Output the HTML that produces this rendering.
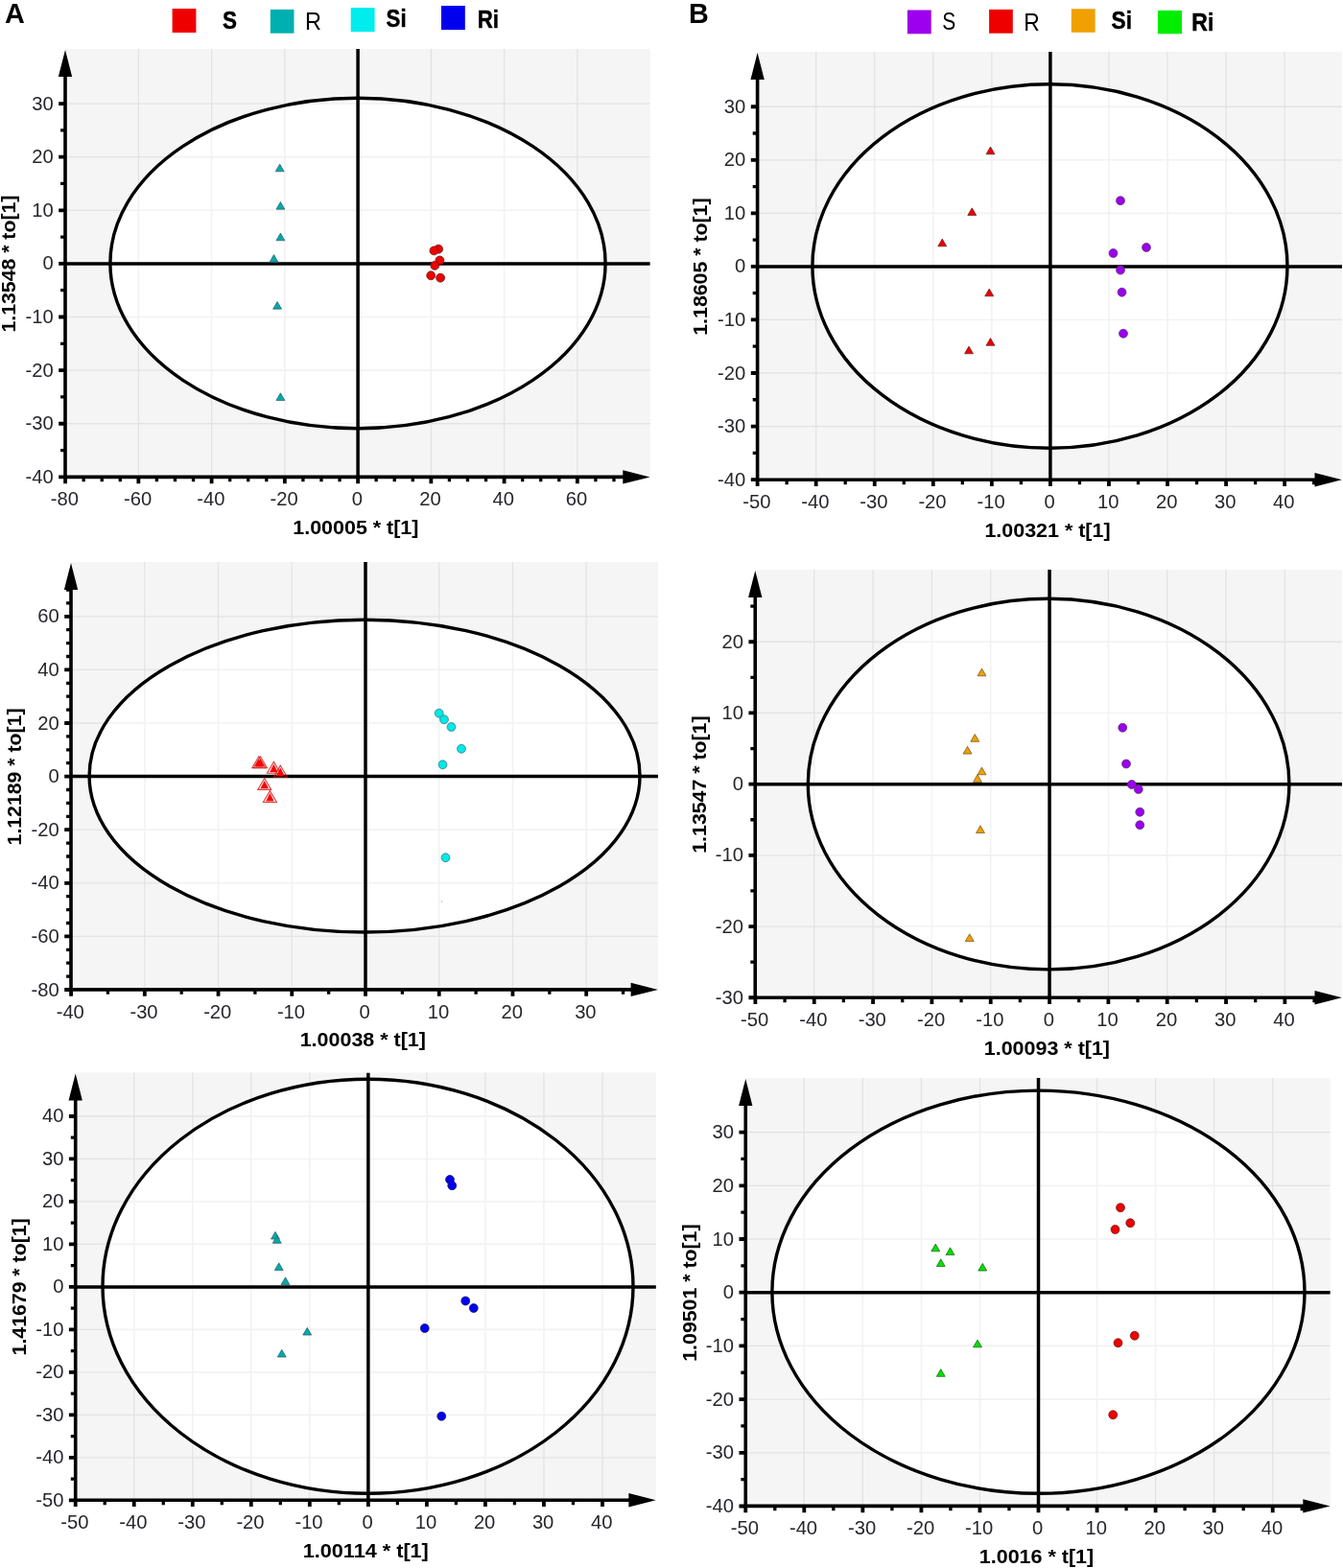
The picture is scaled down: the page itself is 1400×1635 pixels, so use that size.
<!DOCTYPE html>
<html lang="en"><head><meta charset="utf-8"><title>OPLS-DA score plots</title>
<style>
html,body{margin:0;padding:0;background:#fff;}
body{width:1400px;height:1635px;overflow:hidden;}
svg{display:block;}
text{font-family:"Liberation Sans", sans-serif;}
.tk{font-size:20.2px;fill:#26262c;}
.ti{font-size:20.0px;font-weight:bold;fill:#000;}
.lg{font-size:26.5px;fill:#000;}
.lgb{font-size:26.5px;font-weight:bold;fill:#000;stroke:#000;stroke-width:0.5px;}
.pl{font-size:28.8px;font-weight:bold;fill:#000;}
</style></head><body>
<svg width="1400" height="1635" viewBox="0 0 1400 1635">
<rect x="0" y="0" width="1400" height="1635" fill="#fff"/>
<g id="A1">
<clipPath id="cA1"><rect x="68" y="51" width="609.8" height="446.4"/></clipPath>
<rect x="68" y="51" width="609.8" height="446.4" fill="#f5f5f5"/>
<path d="M144.35 51V497.4M220.6 51V497.4M296.85 51V497.4M449.35 51V497.4M525.6 51V497.4M601.85 51V497.4M68 441.76H677.8M68 386.14H677.8M68 330.52H677.8M68 219.28H677.8M68 163.66H677.8M68 108.04H677.8" stroke="#e3e3e3" stroke-width="1.3" fill="none"/>
<g clip-path="url(#cA1)">
<ellipse cx="373" cy="274.5" rx="258.1" ry="172.3" fill="#fff"/>
<clipPath id="eA1"><ellipse cx="373" cy="274.5" rx="258.1" ry="172.3"/></clipPath>
<path d="M144.35 51V497.4M220.6 51V497.4M296.85 51V497.4M449.35 51V497.4M525.6 51V497.4M601.85 51V497.4M68 441.76H677.8M68 386.14H677.8M68 330.52H677.8M68 219.28H677.8M68 163.66H677.8M68 108.04H677.8" stroke="#f2f2f2" stroke-width="1.6" fill="none" clip-path="url(#eA1)"/>
<path d="M68 274.9H677.8" stroke="#000" stroke-width="3.5" fill="none"/>
<path d="M373.1 51V497.4" stroke="#000" stroke-width="3.5" fill="none"/>
<ellipse cx="373" cy="274.5" rx="258.1" ry="172.3" fill="none" stroke="#000" stroke-width="3.4"/>
</g>
<path d="M291.7 171.1L296.15 178.8H287.25Z" fill="#00aaad" stroke="#2a5a5c" stroke-width="0.7" stroke-linejoin="miter"/>
<path d="M292.4 210.5L296.85 218.2H287.95Z" fill="#00aaad" stroke="#2a5a5c" stroke-width="0.7" stroke-linejoin="miter"/>
<path d="M292.4 243.1L296.85 250.8H287.95Z" fill="#00aaad" stroke="#2a5a5c" stroke-width="0.7" stroke-linejoin="miter"/>
<path d="M285.5 265.6L289.95 273.3H281.05Z" fill="#00aaad" stroke="#2a5a5c" stroke-width="0.7" stroke-linejoin="miter"/>
<path d="M289.1 314.5L293.55 322.2H284.65Z" fill="#00aaad" stroke="#2a5a5c" stroke-width="0.7" stroke-linejoin="miter"/>
<path d="M292.4 409.8L296.85 417.5H287.95Z" fill="#00aaad" stroke="#2a5a5c" stroke-width="0.7" stroke-linejoin="miter"/>
<circle cx="457.1" cy="259.7" r="4.45" fill="#f00000" stroke="#6a1a1a" stroke-width="0.8"/>
<circle cx="452.4" cy="261.4" r="4.45" fill="#f00000" stroke="#6a1a1a" stroke-width="0.8"/>
<circle cx="458.4" cy="271.5" r="4.45" fill="#f00000" stroke="#6a1a1a" stroke-width="0.8"/>
<circle cx="453.3" cy="276.9" r="4.45" fill="#f00000" stroke="#6a1a1a" stroke-width="0.8"/>
<circle cx="449.2" cy="287.3" r="4.45" fill="#f00000" stroke="#6a1a1a" stroke-width="0.8"/>
<circle cx="459.1" cy="289.7" r="4.45" fill="#f00000" stroke="#6a1a1a" stroke-width="0.8"/>
<path d="M68.1 497.4v6.8M144.35 497.4v6.8M220.6 497.4v6.8M296.85 497.4v6.8M373.1 497.4v6.8M449.35 497.4v6.8M525.6 497.4v6.8M601.85 497.4v6.8M68 497.38h-6.8M68 441.76h-6.8M68 386.14h-6.8M68 330.52h-6.8M68 274.9h-6.8M68 219.28h-6.8M68 163.66h-6.8M68 108.04h-6.8" stroke="#000" stroke-width="3.8" fill="none"/>
<path d="M87.16 497.4v4.9M106.23 497.4v4.9M125.29 497.4v4.9M163.41 497.4v4.9M182.48 497.4v4.9M201.54 497.4v4.9M239.66 497.4v4.9M258.73 497.4v4.9M277.79 497.4v4.9M315.91 497.4v4.9M334.98 497.4v4.9M354.04 497.4v4.9M392.16 497.4v4.9M411.23 497.4v4.9M430.29 497.4v4.9M468.41 497.4v4.9M487.48 497.4v4.9M506.54 497.4v4.9M544.66 497.4v4.9M563.73 497.4v4.9M582.79 497.4v4.9M620.91 497.4v4.9M639.98 497.4v4.9M68 469.57h-4.9M68 413.95h-4.9M68 358.33h-4.9M68 302.71h-4.9M68 247.09h-4.9M68 191.47h-4.9M68 135.85h-4.9" stroke="#000" stroke-width="3.3" fill="none"/>
<path d="M68 71V497.4H657.8" stroke="#000" stroke-width="3.6" fill="none" stroke-linejoin="miter"/>
<path d="M68 51.9L75.15 79.9H60.85Z" fill="#000"/>
<path d="M677.6 497.4L649.3 490.2V504.6Z" fill="#000"/>
<text class="tk" x="67.3" y="527" text-anchor="middle">-80</text>
<text class="tk" x="143.55" y="527" text-anchor="middle">-60</text>
<text class="tk" x="219.8" y="527" text-anchor="middle">-40</text>
<text class="tk" x="296.05" y="527" text-anchor="middle">-20</text>
<text class="tk" x="372.3" y="527" text-anchor="middle">0</text>
<text class="tk" x="448.55" y="527" text-anchor="middle">20</text>
<text class="tk" x="524.8" y="527" text-anchor="middle">40</text>
<text class="tk" x="601.05" y="527" text-anchor="middle">60</text>
<text class="tk" x="55.7" y="503.88" text-anchor="end">-40</text>
<text class="tk" x="55.7" y="448.26" text-anchor="end">-30</text>
<text class="tk" x="55.7" y="392.64" text-anchor="end">-20</text>
<text class="tk" x="55.7" y="337.02" text-anchor="end">-10</text>
<text class="tk" x="55.7" y="281.4" text-anchor="end">0</text>
<text class="tk" x="55.7" y="225.78" text-anchor="end">10</text>
<text class="tk" x="55.7" y="170.16" text-anchor="end">20</text>
<text class="tk" x="55.7" y="114.54" text-anchor="end">30</text>
<text class="ti" x="370.85" y="556.6" text-anchor="middle" textLength="131.2" lengthAdjust="spacingAndGlyphs">1.00005 * t[1]</text>
<text class="ti" transform="translate(16 275.1) rotate(-90)" text-anchor="middle" textLength="142.9" lengthAdjust="spacingAndGlyphs">1.13548 * to[1]</text>
</g>
<g id="A2">
<clipPath id="cA2"><rect x="74" y="586" width="612.1" height="445.9"/></clipPath>
<rect x="74" y="586" width="612.1" height="445.9" fill="#f5f5f5"/>
<path d="M150.81 586V1031.9M227.54 586V1031.9M304.27 586V1031.9M457.73 586V1031.9M534.46 586V1031.9M611.19 586V1031.9M74 976.4H686.1M74 920.8H686.1M74 865.2H686.1M74 754H686.1M74 698.4H686.1M74 642.8H686.1" stroke="#e3e3e3" stroke-width="1.3" fill="none"/>
<g clip-path="url(#cA2)">
<ellipse cx="380.05" cy="809.1" rx="286.95" ry="162.9" fill="#fff"/>
<clipPath id="eA2"><ellipse cx="380.05" cy="809.1" rx="286.95" ry="162.9"/></clipPath>
<path d="M150.81 586V1031.9M227.54 586V1031.9M304.27 586V1031.9M457.73 586V1031.9M534.46 586V1031.9M611.19 586V1031.9M74 976.4H686.1M74 920.8H686.1M74 865.2H686.1M74 754H686.1M74 698.4H686.1M74 642.8H686.1" stroke="#f2f2f2" stroke-width="1.6" fill="none" clip-path="url(#eA2)"/>
<path d="M74 809.6H686.1" stroke="#000" stroke-width="3.5" fill="none"/>
<path d="M381 586V1031.9" stroke="#000" stroke-width="3.5" fill="none"/>
<ellipse cx="380.05" cy="809.1" rx="286.95" ry="162.9" fill="none" stroke="#000" stroke-width="3.4"/>
</g>
<path d="M269.8 788.8L276.8 800.7H262.8Z" fill="none" stroke="#cc1010" stroke-opacity="0.8" stroke-width="1.1"/>
<path d="M269.8 791.2L274.1 799.6H265.5Z" fill="#f80000"/>
<path d="M271.4 788.8L278.4 800.7H264.4Z" fill="none" stroke="#cc1010" stroke-opacity="0.8" stroke-width="1.1"/>
<path d="M271.4 791.2L275.7 799.6H267.1Z" fill="#f80000"/>
<path d="M285.4 794.4L292.4 806.3H278.4Z" fill="none" stroke="#cc1010" stroke-opacity="0.8" stroke-width="1.1"/>
<path d="M285.4 796.8L289.7 805.2H281.1Z" fill="#f80000"/>
<path d="M292.3 798.2L299.3 810.1H285.3Z" fill="none" stroke="#cc1010" stroke-opacity="0.8" stroke-width="1.1"/>
<path d="M292.3 800.6L296.6 809H288Z" fill="#f80000"/>
<path d="M275.7 811.5L282.7 823.4H268.7Z" fill="none" stroke="#cc1010" stroke-opacity="0.8" stroke-width="1.1"/>
<path d="M275.7 813.9L280 822.3H271.4Z" fill="#f80000"/>
<path d="M281.4 824.6L288.4 836.5H274.4Z" fill="none" stroke="#cc1010" stroke-opacity="0.8" stroke-width="1.1"/>
<path d="M281.4 827L285.7 835.4H277.1Z" fill="#f80000"/>
<circle cx="457.75" cy="743.75" r="4.45" fill="#00e8e8" stroke="#4a7a7a" stroke-width="0.8"/>
<circle cx="463" cy="750.25" r="4.45" fill="#00e8e8" stroke="#4a7a7a" stroke-width="0.8"/>
<circle cx="470.5" cy="758" r="4.45" fill="#00e8e8" stroke="#4a7a7a" stroke-width="0.8"/>
<circle cx="481" cy="780.75" r="4.45" fill="#00e8e8" stroke="#4a7a7a" stroke-width="0.8"/>
<circle cx="461.5" cy="797.25" r="4.45" fill="#00e8e8" stroke="#4a7a7a" stroke-width="0.8"/>
<circle cx="464.5" cy="894.25" r="4.45" fill="#00e8e8" stroke="#4a7a7a" stroke-width="0.8"/>
<path d="M74.08 1031.9v6.8M150.81 1031.9v6.8M227.54 1031.9v6.8M304.27 1031.9v6.8M381 1031.9v6.8M457.73 1031.9v6.8M534.46 1031.9v6.8M611.19 1031.9v6.8M74 1032h-6.8M74 976.4h-6.8M74 920.8h-6.8M74 865.2h-6.8M74 809.6h-6.8M74 754h-6.8M74 698.4h-6.8M74 642.8h-6.8" stroke="#000" stroke-width="3.8" fill="none"/>
<path d="M112.44 1031.9v4.9M189.18 1031.9v4.9M265.9 1031.9v4.9M342.63 1031.9v4.9M419.37 1031.9v4.9M496.1 1031.9v4.9M572.83 1031.9v4.9M649.56 1031.9v4.9M74 1018.1h-4.9M74 1004.2h-4.9M74 990.3h-4.9M74 962.5h-4.9M74 948.6h-4.9M74 934.7h-4.9M74 906.9h-4.9M74 893h-4.9M74 879.1h-4.9M74 851.3h-4.9M74 837.4h-4.9M74 823.5h-4.9M74 795.7h-4.9M74 781.8h-4.9M74 767.9h-4.9M74 740.1h-4.9M74 726.2h-4.9M74 712.3h-4.9M74 684.5h-4.9M74 670.6h-4.9M74 656.7h-4.9M74 628.9h-4.9M74 615h-4.9" stroke="#000" stroke-width="3.3" fill="none"/>
<path d="M74 606V1031.9H666.1" stroke="#000" stroke-width="3.6" fill="none" stroke-linejoin="miter"/>
<path d="M74 586.9L81.15 614.9H66.85Z" fill="#000"/>
<path d="M685.9 1031.9L657.6 1024.7V1039.1Z" fill="#000"/>
<text class="tk" x="73.28" y="1061.5" text-anchor="middle">-40</text>
<text class="tk" x="150.01" y="1061.5" text-anchor="middle">-30</text>
<text class="tk" x="226.74" y="1061.5" text-anchor="middle">-20</text>
<text class="tk" x="303.47" y="1061.5" text-anchor="middle">-10</text>
<text class="tk" x="380.2" y="1061.5" text-anchor="middle">0</text>
<text class="tk" x="456.93" y="1061.5" text-anchor="middle">10</text>
<text class="tk" x="533.66" y="1061.5" text-anchor="middle">20</text>
<text class="tk" x="610.39" y="1061.5" text-anchor="middle">30</text>
<text class="tk" x="61.7" y="1038.5" text-anchor="end">-80</text>
<text class="tk" x="61.7" y="982.9" text-anchor="end">-60</text>
<text class="tk" x="61.7" y="927.3" text-anchor="end">-40</text>
<text class="tk" x="61.7" y="871.7" text-anchor="end">-20</text>
<text class="tk" x="61.7" y="816.1" text-anchor="end">0</text>
<text class="tk" x="61.7" y="760.5" text-anchor="end">20</text>
<text class="tk" x="61.7" y="704.9" text-anchor="end">40</text>
<text class="tk" x="61.7" y="649.3" text-anchor="end">60</text>
<text class="ti" x="378.3" y="1091.1" text-anchor="middle" textLength="131.2" lengthAdjust="spacingAndGlyphs">1.00038 * t[1]</text>
<text class="ti" transform="translate(22.3 810) rotate(-90)" text-anchor="middle" textLength="142.9" lengthAdjust="spacingAndGlyphs">1.12189 * to[1]</text>
</g>
<g id="A3">
<clipPath id="cA3"><rect x="78.7" y="1118.5" width="605.2" height="445.8"/></clipPath>
<rect x="78.7" y="1118.5" width="605.2" height="445.8" fill="#f5f5f5"/>
<path d="M139.73 1118.5V1564.3M200.76 1118.5V1564.3M261.79 1118.5V1564.3M322.82 1118.5V1564.3M444.88 1118.5V1564.3M505.91 1118.5V1564.3M566.94 1118.5V1564.3M627.97 1118.5V1564.3M78.7 1519.82H683.9M78.7 1475.34H683.9M78.7 1430.86H683.9M78.7 1386.38H683.9M78.7 1297.42H683.9M78.7 1252.94H683.9M78.7 1208.46H683.9M78.7 1163.98H683.9" stroke="#e3e3e3" stroke-width="1.3" fill="none"/>
<g clip-path="url(#cA3)">
<ellipse cx="383.5" cy="1341.25" rx="276.5" ry="216.05" fill="#fff"/>
<clipPath id="eA3"><ellipse cx="383.5" cy="1341.25" rx="276.5" ry="216.05"/></clipPath>
<path d="M139.73 1118.5V1564.3M200.76 1118.5V1564.3M261.79 1118.5V1564.3M322.82 1118.5V1564.3M444.88 1118.5V1564.3M505.91 1118.5V1564.3M566.94 1118.5V1564.3M627.97 1118.5V1564.3M78.7 1519.82H683.9M78.7 1475.34H683.9M78.7 1430.86H683.9M78.7 1386.38H683.9M78.7 1297.42H683.9M78.7 1252.94H683.9M78.7 1208.46H683.9M78.7 1163.98H683.9" stroke="#f2f2f2" stroke-width="1.6" fill="none" clip-path="url(#eA3)"/>
<path d="M78.7 1341.9H683.9" stroke="#000" stroke-width="3.5" fill="none"/>
<path d="M383.85 1118.5V1564.3" stroke="#000" stroke-width="3.5" fill="none"/>
<ellipse cx="383.5" cy="1341.25" rx="276.5" ry="216.05" fill="none" stroke="#000" stroke-width="3.4"/>
</g>
<path d="M287 1284.35L291.45 1292.05H282.55Z" fill="#00aaad" stroke="#2a5a5c" stroke-width="0.7" stroke-linejoin="miter"/>
<path d="M288.75 1288.6L293.2 1296.3H284.3Z" fill="#00aaad" stroke="#2a5a5c" stroke-width="0.7" stroke-linejoin="miter"/>
<path d="M290.75 1316.85L295.2 1324.55H286.3Z" fill="#00aaad" stroke="#2a5a5c" stroke-width="0.7" stroke-linejoin="miter"/>
<path d="M297.5 1331.85L301.95 1339.55H293.05Z" fill="#00aaad" stroke="#2a5a5c" stroke-width="0.7" stroke-linejoin="miter"/>
<path d="M320.25 1384.35L324.7 1392.05H315.8Z" fill="#00aaad" stroke="#2a5a5c" stroke-width="0.7" stroke-linejoin="miter"/>
<path d="M293.75 1407.35L298.2 1415.05H289.3Z" fill="#00aaad" stroke="#2a5a5c" stroke-width="0.7" stroke-linejoin="miter"/>
<circle cx="469" cy="1230" r="4.45" fill="#0000f0" stroke="#1a1a6a" stroke-width="0.8"/>
<circle cx="471.25" cy="1236.25" r="4.45" fill="#0000f0" stroke="#1a1a6a" stroke-width="0.8"/>
<circle cx="485.25" cy="1356.5" r="4.45" fill="#0000f0" stroke="#1a1a6a" stroke-width="0.8"/>
<circle cx="493.75" cy="1364" r="4.45" fill="#0000f0" stroke="#1a1a6a" stroke-width="0.8"/>
<circle cx="442.75" cy="1385" r="4.45" fill="#0000f0" stroke="#1a1a6a" stroke-width="0.8"/>
<circle cx="460.25" cy="1476.75" r="4.45" fill="#0000f0" stroke="#1a1a6a" stroke-width="0.8"/>
<path d="M78.7 1564.3v6.8M139.73 1564.3v6.8M200.76 1564.3v6.8M261.79 1564.3v6.8M322.82 1564.3v6.8M383.85 1564.3v6.8M444.88 1564.3v6.8M505.91 1564.3v6.8M566.94 1564.3v6.8M627.97 1564.3v6.8M78.7 1564.3h-6.8M78.7 1519.82h-6.8M78.7 1475.34h-6.8M78.7 1430.86h-6.8M78.7 1386.38h-6.8M78.7 1341.9h-6.8M78.7 1297.42h-6.8M78.7 1252.94h-6.8M78.7 1208.46h-6.8M78.7 1163.98h-6.8" stroke="#000" stroke-width="3.8" fill="none"/>
<path d="M109.22 1564.3v4.9M170.25 1564.3v4.9M231.28 1564.3v4.9M292.31 1564.3v4.9M353.34 1564.3v4.9M414.37 1564.3v4.9M475.4 1564.3v4.9M536.42 1564.3v4.9M597.46 1564.3v4.9M658.49 1564.3v4.9M78.7 1542.06h-4.9M78.7 1497.58h-4.9M78.7 1453.1h-4.9M78.7 1408.62h-4.9M78.7 1364.14h-4.9M78.7 1319.66h-4.9M78.7 1275.18h-4.9M78.7 1230.7h-4.9M78.7 1186.22h-4.9" stroke="#000" stroke-width="3.3" fill="none"/>
<path d="M78.7 1138.5V1564.3H663.9" stroke="#000" stroke-width="3.6" fill="none" stroke-linejoin="miter"/>
<path d="M78.7 1119.4L85.85 1147.4H71.55Z" fill="#000"/>
<path d="M683.7 1564.3L655.4 1557.1V1571.5Z" fill="#000"/>
<text class="tk" x="77.9" y="1593.9" text-anchor="middle">-50</text>
<text class="tk" x="138.93" y="1593.9" text-anchor="middle">-40</text>
<text class="tk" x="199.96" y="1593.9" text-anchor="middle">-30</text>
<text class="tk" x="260.99" y="1593.9" text-anchor="middle">-20</text>
<text class="tk" x="322.02" y="1593.9" text-anchor="middle">-10</text>
<text class="tk" x="383.05" y="1593.9" text-anchor="middle">0</text>
<text class="tk" x="444.08" y="1593.9" text-anchor="middle">10</text>
<text class="tk" x="505.11" y="1593.9" text-anchor="middle">20</text>
<text class="tk" x="566.14" y="1593.9" text-anchor="middle">30</text>
<text class="tk" x="627.17" y="1593.9" text-anchor="middle">40</text>
<text class="tk" x="66.4" y="1570.8" text-anchor="end">-50</text>
<text class="tk" x="66.4" y="1526.32" text-anchor="end">-40</text>
<text class="tk" x="66.4" y="1481.84" text-anchor="end">-30</text>
<text class="tk" x="66.4" y="1437.36" text-anchor="end">-20</text>
<text class="tk" x="66.4" y="1392.88" text-anchor="end">-10</text>
<text class="tk" x="66.4" y="1348.4" text-anchor="end">0</text>
<text class="tk" x="66.4" y="1303.92" text-anchor="end">10</text>
<text class="tk" x="66.4" y="1259.44" text-anchor="end">20</text>
<text class="tk" x="66.4" y="1214.96" text-anchor="end">30</text>
<text class="tk" x="66.4" y="1170.48" text-anchor="end">40</text>
<text class="ti" x="381.3" y="1623.5" text-anchor="middle" textLength="131.1" lengthAdjust="spacingAndGlyphs">1.00114 * t[1]</text>
<text class="ti" transform="translate(26.8 1341.9) rotate(-90)" text-anchor="middle" textLength="143.1" lengthAdjust="spacingAndGlyphs">1.41679 * to[1]</text>
</g>
<g id="B1">
<clipPath id="cB1"><rect x="789.6" y="54" width="609.4" height="446.3"/></clipPath>
<rect x="789.6" y="54" width="609.4" height="446.3" fill="#f5f5f5"/>
<path d="M850.66 54V500.3M911.72 54V500.3M972.78 54V500.3M1033.84 54V500.3M1155.96 54V500.3M1217.02 54V500.3M1278.08 54V500.3M1339.14 54V500.3M789.6 444.55H1399M789.6 389H1399M789.6 333.45H1399M789.6 222.35H1399M789.6 166.8H1399M789.6 111.25H1399" stroke="#e3e3e3" stroke-width="1.3" fill="none"/>
<g clip-path="url(#cB1)">
<ellipse cx="1094.45" cy="277.55" rx="247.55" ry="189.75" fill="#fff"/>
<clipPath id="eB1"><ellipse cx="1094.45" cy="277.55" rx="247.55" ry="189.75"/></clipPath>
<path d="M850.66 54V500.3M911.72 54V500.3M972.78 54V500.3M1033.84 54V500.3M1155.96 54V500.3M1217.02 54V500.3M1278.08 54V500.3M1339.14 54V500.3M789.6 444.55H1399M789.6 389H1399M789.6 333.45H1399M789.6 222.35H1399M789.6 166.8H1399M789.6 111.25H1399" stroke="#f2f2f2" stroke-width="1.6" fill="none" clip-path="url(#eB1)"/>
<path d="M789.6 277.9H1399" stroke="#000" stroke-width="3.5" fill="none"/>
<path d="M1094.9 54V500.3" stroke="#000" stroke-width="3.5" fill="none"/>
<ellipse cx="1094.45" cy="277.55" rx="247.55" ry="189.75" fill="none" stroke="#000" stroke-width="3.4"/>
</g>
<path d="M1032.5 153.1L1036.95 160.8H1028.05Z" fill="#f00000" stroke="#5a1a1a" stroke-width="0.7" stroke-linejoin="miter"/>
<path d="M1013.25 216.85L1017.7 224.55H1008.8Z" fill="#f00000" stroke="#5a1a1a" stroke-width="0.7" stroke-linejoin="miter"/>
<path d="M982.25 249.1L986.7 256.8H977.8Z" fill="#f00000" stroke="#5a1a1a" stroke-width="0.7" stroke-linejoin="miter"/>
<path d="M1031.25 301.1L1035.7 308.8H1026.8Z" fill="#f00000" stroke="#5a1a1a" stroke-width="0.7" stroke-linejoin="miter"/>
<path d="M1032.5 352.6L1036.95 360.3H1028.05Z" fill="#f00000" stroke="#5a1a1a" stroke-width="0.7" stroke-linejoin="miter"/>
<path d="M1010 361.1L1014.45 368.8H1005.55Z" fill="#f00000" stroke="#5a1a1a" stroke-width="0.7" stroke-linejoin="miter"/>
<circle cx="1168" cy="209.25" r="4.45" fill="#9a00f0" stroke="#5a3a6a" stroke-width="0.8"/>
<circle cx="1195" cy="258" r="4.45" fill="#9a00f0" stroke="#5a3a6a" stroke-width="0.8"/>
<circle cx="1160.5" cy="264" r="4.45" fill="#9a00f0" stroke="#5a3a6a" stroke-width="0.8"/>
<circle cx="1168" cy="281.6" r="4.45" fill="#9a00f0" stroke="#5a3a6a" stroke-width="0.8"/>
<circle cx="1169.5" cy="304.75" r="4.45" fill="#9a00f0" stroke="#5a3a6a" stroke-width="0.8"/>
<circle cx="1171" cy="347.75" r="4.45" fill="#9a00f0" stroke="#5a3a6a" stroke-width="0.8"/>
<path d="M789.6 500.3v6.8M850.66 500.3v6.8M911.72 500.3v6.8M972.78 500.3v6.8M1033.84 500.3v6.8M1094.9 500.3v6.8M1155.96 500.3v6.8M1217.02 500.3v6.8M1278.08 500.3v6.8M1339.14 500.3v6.8M789.6 500.1h-6.8M789.6 444.55h-6.8M789.6 389h-6.8M789.6 333.45h-6.8M789.6 277.9h-6.8M789.6 222.35h-6.8M789.6 166.8h-6.8M789.6 111.25h-6.8" stroke="#000" stroke-width="3.8" fill="none"/>
<path d="M820.13 500.3v4.9M881.19 500.3v4.9M942.25 500.3v4.9M1003.31 500.3v4.9M1064.37 500.3v4.9M1125.43 500.3v4.9M1186.49 500.3v4.9M1247.55 500.3v4.9M1308.61 500.3v4.9M1369.67 500.3v4.9M789.6 472.32h-4.9M789.6 416.77h-4.9M789.6 361.22h-4.9M789.6 305.67h-4.9M789.6 250.12h-4.9M789.6 194.57h-4.9M789.6 139.02h-4.9" stroke="#000" stroke-width="3.3" fill="none"/>
<path d="M789.6 74V500.3H1379" stroke="#000" stroke-width="3.6" fill="none" stroke-linejoin="miter"/>
<path d="M789.6 54.9L796.75 82.9H782.45Z" fill="#000"/>
<path d="M1398.8 500.3L1370.5 493.1V507.5Z" fill="#000"/>
<text class="tk" x="788.8" y="529.9" text-anchor="middle">-50</text>
<text class="tk" x="849.86" y="529.9" text-anchor="middle">-40</text>
<text class="tk" x="910.92" y="529.9" text-anchor="middle">-30</text>
<text class="tk" x="971.98" y="529.9" text-anchor="middle">-20</text>
<text class="tk" x="1033.04" y="529.9" text-anchor="middle">-10</text>
<text class="tk" x="1094.1" y="529.9" text-anchor="middle">0</text>
<text class="tk" x="1155.16" y="529.9" text-anchor="middle">10</text>
<text class="tk" x="1216.22" y="529.9" text-anchor="middle">20</text>
<text class="tk" x="1277.28" y="529.9" text-anchor="middle">30</text>
<text class="tk" x="1338.34" y="529.9" text-anchor="middle">40</text>
<text class="tk" x="777.3" y="506.6" text-anchor="end">-40</text>
<text class="tk" x="777.3" y="451.05" text-anchor="end">-30</text>
<text class="tk" x="777.3" y="395.5" text-anchor="end">-20</text>
<text class="tk" x="777.3" y="339.95" text-anchor="end">-10</text>
<text class="tk" x="777.3" y="284.4" text-anchor="end">0</text>
<text class="tk" x="777.3" y="228.85" text-anchor="end">10</text>
<text class="tk" x="777.3" y="173.3" text-anchor="end">20</text>
<text class="tk" x="777.3" y="117.75" text-anchor="end">30</text>
<text class="ti" x="1092" y="559.5" text-anchor="middle" textLength="131.2" lengthAdjust="spacingAndGlyphs">1.00321 * t[1]</text>
<text class="ti" transform="translate(737.3 278.1) rotate(-90)" text-anchor="middle" textLength="143.3" lengthAdjust="spacingAndGlyphs">1.18605 * to[1]</text>
</g>
<g id="B2">
<clipPath id="cB2"><rect x="787.25" y="594" width="611.75" height="446.3"/></clipPath>
<rect x="787.25" y="594" width="611.75" height="446.3" fill="#f5f5f5"/>
<path d="M848.73 594V1040.3M910.06 594V1040.3M971.39 594V1040.3M1032.72 594V1040.3M1155.38 594V1040.3M1216.71 594V1040.3M1278.04 594V1040.3M1339.37 594V1040.3M787.25 966.05H1399M787.25 891.85H1399M787.25 743.45H1399M787.25 669.25H1399" stroke="#e3e3e3" stroke-width="1.3" fill="none"/>
<g clip-path="url(#cB2)">
<ellipse cx="1093.1" cy="817.6" rx="250.8" ry="193.3" fill="#fff"/>
<clipPath id="eB2"><ellipse cx="1093.1" cy="817.6" rx="250.8" ry="193.3"/></clipPath>
<path d="M848.73 594V1040.3M910.06 594V1040.3M971.39 594V1040.3M1032.72 594V1040.3M1155.38 594V1040.3M1216.71 594V1040.3M1278.04 594V1040.3M1339.37 594V1040.3M787.25 966.05H1399M787.25 891.85H1399M787.25 743.45H1399M787.25 669.25H1399" stroke="#f2f2f2" stroke-width="1.6" fill="none" clip-path="url(#eB2)"/>
<path d="M787.25 817.65H1399" stroke="#000" stroke-width="3.5" fill="none"/>
<path d="M1094.05 594V1040.3" stroke="#000" stroke-width="3.5" fill="none"/>
<ellipse cx="1093.1" cy="817.6" rx="250.8" ry="193.3" fill="none" stroke="#000" stroke-width="3.4"/>
</g>
<path d="M1023.5 697.1L1027.95 704.8H1019.05Z" fill="#f0a000" stroke="#6a4a1a" stroke-width="0.7" stroke-linejoin="miter"/>
<path d="M1016.25 765.6L1020.7 773.3H1011.8Z" fill="#f0a000" stroke="#6a4a1a" stroke-width="0.7" stroke-linejoin="miter"/>
<path d="M1008.5 778.35L1012.95 786.05H1004.05Z" fill="#f0a000" stroke="#6a4a1a" stroke-width="0.7" stroke-linejoin="miter"/>
<path d="M1023.5 800.1L1027.95 807.8H1019.05Z" fill="#f0a000" stroke="#6a4a1a" stroke-width="0.7" stroke-linejoin="miter"/>
<path d="M1019 807.7L1023.45 815.4H1014.55Z" fill="#f0a000" stroke="#6a4a1a" stroke-width="0.7" stroke-linejoin="miter"/>
<path d="M1022 860.85L1026.45 868.55H1017.55Z" fill="#f0a000" stroke="#6a4a1a" stroke-width="0.7" stroke-linejoin="miter"/>
<path d="M1010.75 973.85L1015.2 981.55H1006.3Z" fill="#f0a000" stroke="#6a4a1a" stroke-width="0.7" stroke-linejoin="miter"/>
<circle cx="1170.25" cy="758.75" r="4.45" fill="#9a00f0" stroke="#5a3a6a" stroke-width="0.8"/>
<circle cx="1174" cy="796.5" r="4.45" fill="#9a00f0" stroke="#5a3a6a" stroke-width="0.8"/>
<circle cx="1179.75" cy="818" r="4.45" fill="#9a00f0" stroke="#5a3a6a" stroke-width="0.8"/>
<circle cx="1186.75" cy="823" r="4.45" fill="#9a00f0" stroke="#5a3a6a" stroke-width="0.8"/>
<circle cx="1188.25" cy="846.75" r="4.45" fill="#9a00f0" stroke="#5a3a6a" stroke-width="0.8"/>
<circle cx="1188.25" cy="860.25" r="4.45" fill="#9a00f0" stroke="#5a3a6a" stroke-width="0.8"/>
<path d="M787.4 1040.3v6.8M848.73 1040.3v6.8M910.06 1040.3v6.8M971.39 1040.3v6.8M1032.72 1040.3v6.8M1094.05 1040.3v6.8M1155.38 1040.3v6.8M1216.71 1040.3v6.8M1278.04 1040.3v6.8M1339.37 1040.3v6.8M787.25 1040.25h-6.8M787.25 966.05h-6.8M787.25 891.85h-6.8M787.25 817.65h-6.8M787.25 743.45h-6.8M787.25 669.25h-6.8" stroke="#000" stroke-width="3.8" fill="none"/>
<path d="M818.06 1040.3v4.9M879.39 1040.3v4.9M940.72 1040.3v4.9M1002.05 1040.3v4.9M1063.38 1040.3v4.9M1124.71 1040.3v4.9M1186.05 1040.3v4.9M1247.38 1040.3v4.9M1308.7 1040.3v4.9M1370.03 1040.3v4.9M787.25 1003.15h-4.9M787.25 928.95h-4.9M787.25 854.75h-4.9M787.25 780.55h-4.9M787.25 706.35h-4.9M787.25 632.15h-4.9" stroke="#000" stroke-width="3.3" fill="none"/>
<path d="M787.25 614V1040.3H1379" stroke="#000" stroke-width="3.6" fill="none" stroke-linejoin="miter"/>
<path d="M787.25 594.9L794.4 622.9H780.1Z" fill="#000"/>
<path d="M1398.8 1040.3L1370.5 1033.1V1047.5Z" fill="#000"/>
<text class="tk" x="786.6" y="1069.9" text-anchor="middle">-50</text>
<text class="tk" x="847.93" y="1069.9" text-anchor="middle">-40</text>
<text class="tk" x="909.26" y="1069.9" text-anchor="middle">-30</text>
<text class="tk" x="970.59" y="1069.9" text-anchor="middle">-20</text>
<text class="tk" x="1031.92" y="1069.9" text-anchor="middle">-10</text>
<text class="tk" x="1093.25" y="1069.9" text-anchor="middle">0</text>
<text class="tk" x="1154.58" y="1069.9" text-anchor="middle">10</text>
<text class="tk" x="1215.91" y="1069.9" text-anchor="middle">20</text>
<text class="tk" x="1277.24" y="1069.9" text-anchor="middle">30</text>
<text class="tk" x="1338.57" y="1069.9" text-anchor="middle">40</text>
<text class="tk" x="774.95" y="1046.75" text-anchor="end">-30</text>
<text class="tk" x="774.95" y="972.55" text-anchor="end">-20</text>
<text class="tk" x="774.95" y="898.35" text-anchor="end">-10</text>
<text class="tk" x="774.95" y="824.15" text-anchor="end">0</text>
<text class="tk" x="774.95" y="749.95" text-anchor="end">10</text>
<text class="tk" x="774.95" y="675.75" text-anchor="end">20</text>
<text class="ti" x="1091.4" y="1099.5" text-anchor="middle" textLength="131.2" lengthAdjust="spacingAndGlyphs">1.00093 * t[1]</text>
<text class="ti" transform="translate(735.7 818.1) rotate(-90)" text-anchor="middle" textLength="143.3" lengthAdjust="spacingAndGlyphs">1.13547 * to[1]</text>
</g>
<g id="B3">
<clipPath id="cB3"><rect x="777.25" y="1124.1" width="609.55" height="446.3"/></clipPath>
<rect x="777.25" y="1124.1" width="609.55" height="446.3" fill="#f5f5f5"/>
<path d="M838.3 1124.1V1570.4M899.35 1124.1V1570.4M960.4 1124.1V1570.4M1021.45 1124.1V1570.4M1143.55 1124.1V1570.4M1204.6 1124.1V1570.4M1265.65 1124.1V1570.4M1326.7 1124.1V1570.4M777.25 1514.8H1386.8M777.25 1459.1H1386.8M777.25 1403.4H1386.8M777.25 1292H1386.8M777.25 1236.3H1386.8M777.25 1180.6H1386.8" stroke="#e3e3e3" stroke-width="1.3" fill="none"/>
<g clip-path="url(#cB3)">
<ellipse cx="1082.45" cy="1347.2" rx="277.55" ry="210.1" fill="#fff"/>
<clipPath id="eB3"><ellipse cx="1082.45" cy="1347.2" rx="277.55" ry="210.1"/></clipPath>
<path d="M838.3 1124.1V1570.4M899.35 1124.1V1570.4M960.4 1124.1V1570.4M1021.45 1124.1V1570.4M1143.55 1124.1V1570.4M1204.6 1124.1V1570.4M1265.65 1124.1V1570.4M1326.7 1124.1V1570.4M777.25 1514.8H1386.8M777.25 1459.1H1386.8M777.25 1403.4H1386.8M777.25 1292H1386.8M777.25 1236.3H1386.8M777.25 1180.6H1386.8" stroke="#f2f2f2" stroke-width="1.6" fill="none" clip-path="url(#eB3)"/>
<path d="M777.25 1347.7H1386.8" stroke="#000" stroke-width="3.5" fill="none"/>
<path d="M1082.5 1124.1V1570.4" stroke="#000" stroke-width="3.5" fill="none"/>
<ellipse cx="1082.45" cy="1347.2" rx="277.55" ry="210.1" fill="none" stroke="#000" stroke-width="3.4"/>
</g>
<path d="M975.25 1297.1L979.7 1304.8H970.8Z" fill="#00e000" stroke="#1a5a1a" stroke-width="0.7" stroke-linejoin="miter"/>
<path d="M990.5 1300.85L994.95 1308.55H986.05Z" fill="#00e000" stroke="#1a5a1a" stroke-width="0.7" stroke-linejoin="miter"/>
<path d="M980.75 1312.85L985.2 1320.55H976.3Z" fill="#00e000" stroke="#1a5a1a" stroke-width="0.7" stroke-linejoin="miter"/>
<path d="M1024.25 1317.35L1028.7 1325.05H1019.8Z" fill="#00e000" stroke="#1a5a1a" stroke-width="0.7" stroke-linejoin="miter"/>
<path d="M1019 1397.1L1023.45 1404.8H1014.55Z" fill="#00e000" stroke="#1a5a1a" stroke-width="0.7" stroke-linejoin="miter"/>
<path d="M980.75 1427.6L985.2 1435.3H976.3Z" fill="#00e000" stroke="#1a5a1a" stroke-width="0.7" stroke-linejoin="miter"/>
<circle cx="1168" cy="1259.25" r="4.45" fill="#f00000" stroke="#6a1a1a" stroke-width="0.8"/>
<circle cx="1178.25" cy="1275.25" r="4.45" fill="#f00000" stroke="#6a1a1a" stroke-width="0.8"/>
<circle cx="1162.5" cy="1282" r="4.45" fill="#f00000" stroke="#6a1a1a" stroke-width="0.8"/>
<circle cx="1182.75" cy="1392.75" r="4.45" fill="#f00000" stroke="#6a1a1a" stroke-width="0.8"/>
<circle cx="1165.5" cy="1400.25" r="4.45" fill="#f00000" stroke="#6a1a1a" stroke-width="0.8"/>
<circle cx="1160.25" cy="1475.25" r="4.45" fill="#f00000" stroke="#6a1a1a" stroke-width="0.8"/>
<path d="M777.25 1570.4v6.8M838.3 1570.4v6.8M899.35 1570.4v6.8M960.4 1570.4v6.8M1021.45 1570.4v6.8M1082.5 1570.4v6.8M1143.55 1570.4v6.8M1204.6 1570.4v6.8M1265.65 1570.4v6.8M1326.7 1570.4v6.8M777.25 1570.5h-6.8M777.25 1514.8h-6.8M777.25 1459.1h-6.8M777.25 1403.4h-6.8M777.25 1347.7h-6.8M777.25 1292h-6.8M777.25 1236.3h-6.8M777.25 1180.6h-6.8" stroke="#000" stroke-width="3.8" fill="none"/>
<path d="M807.77 1570.4v4.9M868.83 1570.4v4.9M929.88 1570.4v4.9M990.92 1570.4v4.9M1051.97 1570.4v4.9M1113.03 1570.4v4.9M1174.08 1570.4v4.9M1235.12 1570.4v4.9M1296.17 1570.4v4.9M1357.22 1570.4v4.9M777.25 1542.65h-4.9M777.25 1486.95h-4.9M777.25 1431.25h-4.9M777.25 1375.55h-4.9M777.25 1319.85h-4.9M777.25 1264.15h-4.9M777.25 1208.45h-4.9" stroke="#000" stroke-width="3.3" fill="none"/>
<path d="M777.25 1144.1V1570.4H1366.8" stroke="#000" stroke-width="3.6" fill="none" stroke-linejoin="miter"/>
<path d="M777.25 1125L784.4 1153H770.1Z" fill="#000"/>
<path d="M1386.6 1570.4L1358.3 1563.2V1577.6Z" fill="#000"/>
<text class="tk" x="776.45" y="1600" text-anchor="middle">-50</text>
<text class="tk" x="837.5" y="1600" text-anchor="middle">-40</text>
<text class="tk" x="898.55" y="1600" text-anchor="middle">-30</text>
<text class="tk" x="959.6" y="1600" text-anchor="middle">-20</text>
<text class="tk" x="1020.65" y="1600" text-anchor="middle">-10</text>
<text class="tk" x="1081.7" y="1600" text-anchor="middle">0</text>
<text class="tk" x="1142.75" y="1600" text-anchor="middle">10</text>
<text class="tk" x="1203.8" y="1600" text-anchor="middle">20</text>
<text class="tk" x="1264.85" y="1600" text-anchor="middle">30</text>
<text class="tk" x="1325.9" y="1600" text-anchor="middle">40</text>
<text class="tk" x="764.95" y="1577" text-anchor="end">-40</text>
<text class="tk" x="764.95" y="1521.3" text-anchor="end">-30</text>
<text class="tk" x="764.95" y="1465.6" text-anchor="end">-20</text>
<text class="tk" x="764.95" y="1409.9" text-anchor="end">-10</text>
<text class="tk" x="764.95" y="1354.2" text-anchor="end">0</text>
<text class="tk" x="764.95" y="1298.5" text-anchor="end">10</text>
<text class="tk" x="764.95" y="1242.8" text-anchor="end">20</text>
<text class="tk" x="764.95" y="1187.1" text-anchor="end">30</text>
<text class="ti" x="1080.5" y="1629.6" text-anchor="middle" textLength="119.4" lengthAdjust="spacingAndGlyphs">1.0016 * t[1]</text>
<text class="ti" transform="translate(725.7 1348.1) rotate(-90)" text-anchor="middle" textLength="143.3" lengthAdjust="spacingAndGlyphs">1.09501 * to[1]</text>
</g>
<rect x="460" y="939" width="1" height="2" fill="#c4c4c4"/>
<g id="legendA">
<rect x="179.6" y="9" width="24.8" height="25" fill="#ee0000"/>
<rect x="281.8" y="9.9" width="24.7" height="24.8" fill="#00b0b0"/>
<rect x="365.7" y="8.1" width="24.9" height="25.1" fill="#00eded"/>
<rect x="460" y="6" width="24.8" height="25.1" fill="#0000ee"/>
<text class="lgb" x="232" y="30.3" textLength="15" lengthAdjust="spacingAndGlyphs">S</text>
<text class="lg" x="318" y="31.2" textLength="17" lengthAdjust="spacingAndGlyphs">R</text>
<text class="lgb" x="402.6" y="28" textLength="21" lengthAdjust="spacingAndGlyphs">Si</text>
<text class="lgb" x="497.7" y="28.5" textLength="22.3" lengthAdjust="spacingAndGlyphs">Ri</text>
</g>
<g id="legendB">
<rect x="945.9" y="10.5" width="24.8" height="24.8" fill="#9d00ee"/>
<rect x="1031.1" y="9.9" width="24.7" height="24.8" fill="#ee0000"/>
<rect x="1116.8" y="9.25" width="24.8" height="24.55" fill="#f0a000"/>
<rect x="1206.9" y="10.9" width="25.1" height="24.4" fill="#00ee00"/>
<text class="lg" x="982.3" y="31" textLength="14" lengthAdjust="spacingAndGlyphs">S</text>
<text class="lg" x="1067.2" y="31.7" textLength="16.5" lengthAdjust="spacingAndGlyphs">R</text>
<text class="lgb" x="1158.6" y="30.2" textLength="21.4" lengthAdjust="spacingAndGlyphs">Si</text>
<text class="lgb" x="1242.3" y="31.7" textLength="23" lengthAdjust="spacingAndGlyphs">Ri</text>
</g>
<text class="pl" x="5" y="24">A</text>
<text class="pl" x="718.1" y="23.9">B</text>
</svg>
</body></html>
